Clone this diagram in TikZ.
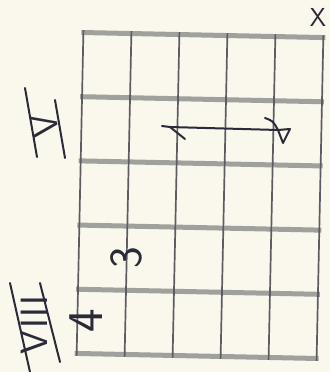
\documentclass[tikz,border=0pt]{standalone}
\usepackage{fontspec}
\definecolor{paper}{HTML}{FAF7EC}
\definecolor{ink}{HTML}{2A2A38}
\definecolor{strcol}{HTML}{5C5C62}
\definecolor{fretcol}{HTML}{A0A09C}
\begin{document}
\begin{tikzpicture}[x=1pt,y=-1pt,
  fret/.style={draw=fretcol,line width=5pt},
  stringline/.style={draw=strcol,line width=1.7pt},
  pen/.style={draw=ink,line width=2pt,line cap=round,line join=round},
  hand/.style={text=ink,font=\sffamily,inner sep=0pt}]
\fill[paper] (0,0) rectangle (330,372);
\useasboundingbox (0,0) rectangle (330,372);
\begin{scope}[rotate around={-1.2:(200,195.5)}]
  \foreach \y in {35,99.2,163.4,227.6,291.8,356}
    \draw[fret] (78,\y) -- (322,\y);
  \foreach \x in {80,128,176,224,272,320}
    \draw[stringline] (\x,32.5) -- (\x,358.5);
\end{scope}
% top-right X
\node[hand,font=\sffamily\fontsize{26}{26}\selectfont] (mute) at (318,17) {X};
% roman numeral V with bars
\node[hand,rotate=100,font=\sffamily\fontsize{36}{36}\selectfont] (pos5) at (45,126) {V};
\draw[pen] (25,88) -- (37,157);
\draw[pen] (55,100) -- (65,158);
% roman numeral VIII with bars
\node[hand,rotate=90,font=\sffamily\fontsize{38}{38}\selectfont] (pos8) at (34,325) {V\kern2pt I\kern2pt I\kern2pt I};
\draw[pen] (10,283) -- (30,372);
\draw[pen] (40,283) -- (60,362);
% finger numbers
\node[hand,rotate=90,font=\sffamily\fontsize{46}{46}\selectfont] (f3) at (126,258) {3};
\node[hand,rotate=90,font=\sffamily\fontsize{50}{50}\selectfont] (f4) at (86,321) {4};
% barre
\draw[pen] (162,126) -- (170,127) -- (278,130);
\draw[pen] (170,127) -- (185,139);
\draw[pen] (265,118) .. controls (273,121) .. (278,130);
\draw[pen] (278,130) -- (290,129) -- (283,143) -- cycle;
\end{tikzpicture}
\end{document}
